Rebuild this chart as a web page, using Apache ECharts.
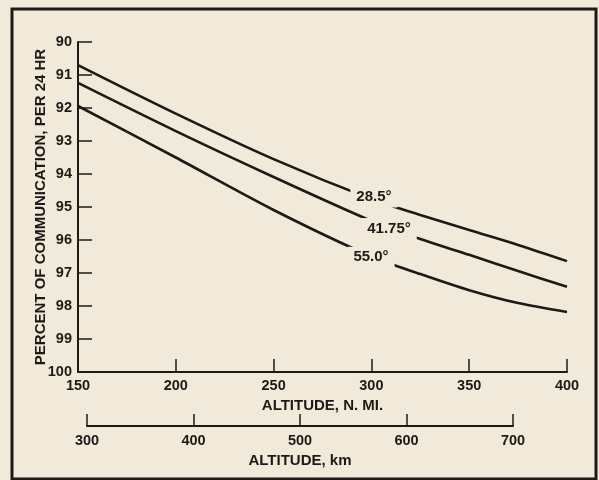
<!DOCTYPE html>
<html>
<head>
<meta charset="utf-8">
<script src="https://cdn.jsdelivr.net/npm/echarts@6/dist/echarts.min.js"></script>
<style>
  html, body { margin: 0; padding: 0; background: #f1eadb; }
  #chart { width: 599px; height: 480px; }
</style>
</head>
<body>
<div id="chart"></div>
<script>
// altitude in nautical miles
const altNmi = [150, 200, 250, 300, 325, 350, 375, 400]
// percent of communication per 24 hr, one array per inclination
const pct285 = [90.70, 92.17, 93.55, 94.76, 95.24, 95.70, 96.15, 96.64]
const pct4175 = [91.24, 92.70, 94.09, 95.42, 95.97, 96.45, 96.94, 97.42]
const pct550 = [91.94, 93.50, 95.09, 96.50, 97.03, 97.52, 97.91, 98.18]

// curve labels and where they sit (nmi, percent)
const curveLabels = ['28.5°', '41.75°', '55.0°']
const labelNmi = [301.3, 309.0, 299.8]
const labelPct = [94.70, 95.65, 96.52]

const bg = '#f1eadb'
const ink = '#1c1a17'
const font = 'Liberation Sans'

const chart = echarts.init(document.getElementById('chart'), null, { renderer: 'canvas' })

const lineSeries = (vals) => ({
  type: 'line',
  xAxisIndex: 0,
  yAxisIndex: 0,
  data: altNmi.map((x, i) => [x, vals[i]]),
  smooth: 0.3,
  symbol: 'none',
  lineStyle: { color: ink, width: 2.6 },
  z: 2
})

const nameStyle = { color: ink, fontSize: 15, fontWeight: 'bold', fontFamily: font }

const option = {
  backgroundColor: bg,
  animation: false,
  textStyle: { fontFamily: font },
  grid: [
    { left: 78, top: 42, width: 489, height: 330 },
    { left: 87, top: 380, width: 426, height: 46 }
  ],
  xAxis: [
    {
      gridIndex: 0,
      type: 'value',
      min: 150, max: 400, interval: 50,
      name: 'ALTITUDE, N. MI.',
      nameLocation: 'middle',
      nameGap: 23,
      nameTextStyle: nameStyle,
      axisLine: { show: true, lineStyle: { color: ink, width: 2 } },
      axisTick: { show: true, inside: true, length: 13, lineStyle: { color: ink, width: 1.5 } },
      axisLabel: { color: ink, fontSize: 14.5, fontWeight: 'bold', margin: 6 },
      splitLine: { show: false }
    },
    {
      gridIndex: 1,
      type: 'value',
      min: 300, max: 700, interval: 100,
      name: 'ALTITUDE, km',
      nameLocation: 'middle',
      nameGap: 27,
      nameTextStyle: nameStyle,
      axisLine: { show: true, lineStyle: { color: ink, width: 2 } },
      axisTick: { show: true, inside: true, length: 12, lineStyle: { color: ink, width: 1.5 } },
      axisLabel: { color: ink, fontSize: 14.5, fontWeight: 'bold', margin: 7 },
      splitLine: { show: false }
    }
  ],
  yAxis: [
    {
      gridIndex: 0,
      type: 'value',
      inverse: true,
      min: 90, max: 100, interval: 1,
      name: 'PERCENT OF COMMUNICATION, PER 24 HR',
      nameLocation: 'middle',
      nameGap: 30,
      nameMoveOverlap: false,
      nameTextStyle: nameStyle,
      axisLine: { show: true, lineStyle: { color: ink, width: 2 } },
      axisTick: { show: true, inside: true, length: 14, lineStyle: { color: ink, width: 1.5 } },
      axisLabel: { color: ink, fontSize: 14.5, fontWeight: 'bold', margin: 6 },
      splitLine: { show: false }
    },
    {
      gridIndex: 1,
      type: 'value',
      show: false
    }
  ],
  series: [
    lineSeries(pct285),
    lineSeries(pct4175),
    lineSeries(pct550),
    {
      type: 'scatter',
      xAxisIndex: 0,
      yAxisIndex: 0,
      symbolSize: 0,
      itemStyle: { opacity: 1 },
      data: labelNmi.map((x, i) => [x, labelPct[i]]),
      label: {
        show: true,
        position: 'inside',
        formatter: (p) => curveLabels[p.dataIndex],
        color: ink,
        opacity: 1,
        textBorderWidth: 0,
        textBorderColor: 'transparent',
        fontSize: 15,
        fontWeight: 'bold',
        fontFamily: font,
        backgroundColor: bg,
        padding: [3, 6]
      },
      emphasis: { disabled: true },
      z: 5
    }
  ],
  graphic: [
    {
      type: 'rect',
      shape: { x: 12, y: 9, width: 584, height: 470 },
      style: { fill: 'none', stroke: ink, lineWidth: 3 },
      silent: true
    }
  ]
}

chart.setOption(option)
</script>
</body>
</html>
